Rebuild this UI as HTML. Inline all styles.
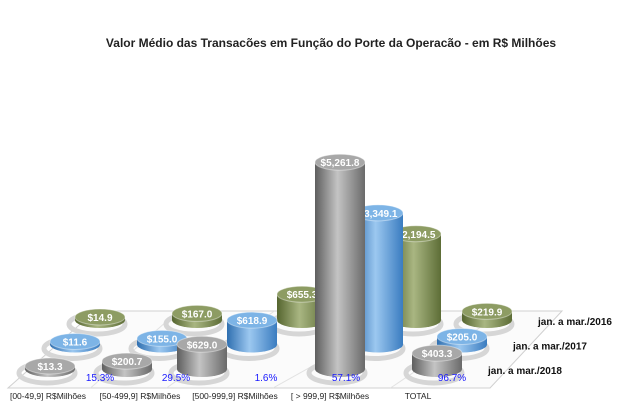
<!DOCTYPE html>
<html><head><meta charset="utf-8"><style>
body{margin:0;background:#fff;}
svg{display:block;font-family:"Liberation Sans",sans-serif;}
</style></head><body>
<svg id="chart" width="640" height="413" viewBox="0 0 640 413">
<defs>
<linearGradient id="g-gray" x1="0" x2="1"><stop offset="0" stop-color="#5e5e5e"/><stop offset="0.45" stop-color="#c4c4c4"/><stop offset="1" stop-color="#6a6a6a"/></linearGradient>
<linearGradient id="g-blue" x1="0" x2="1"><stop offset="0" stop-color="#2f6fb0"/><stop offset="0.45" stop-color="#9cc8f0"/><stop offset="1" stop-color="#3a7cc0"/></linearGradient>
<linearGradient id="g-green" x1="0" x2="1"><stop offset="0" stop-color="#55652f"/><stop offset="0.45" stop-color="#a9b682"/><stop offset="1" stop-color="#5d6d36"/></linearGradient>
</defs>
<text x="331" y="47" text-anchor="middle" font-size="12" font-weight="bold" fill="#222">Valor Médio das Transacões em Função do Porte da Operacão - em R$ Milhões</text>
<polygon points="8,388 95,311 562,311 490,388" fill="#fbfbfb" stroke="#d0d0d0" stroke-width="1"/>
<g id="marks"></g>
</svg>
<script>
const categories = ["[00-49,9] R$Milhões","[50-499,9] R$Milhões","[500-999,9] R$Milhões","[ > 999,9] R$Milhões","TOTAL"];
const seriesNames = ["jan. a mar./2016","jan. a mar./2017","jan. a mar./2018"];
const values2016 = [14.9, 167.0, 655.3, 2194.5, 219.9];
const values2017 = [11.6, 155.0, 618.9, 3349.1, 205.0];
const values2018 = [13.3, 200.7, 629.0, 5261.8, 403.3];
const pctLabels = ["15.3%","29.5%","1.6%","57.1%","96.7%"];
const series = [values2016, values2017, values2018];
// layout (not data)
const catX = [50, 127, 202, 340, 437];
const catShift = [25, 35, 50, 38, 25];
const pctX = [100, 176, 266, 346, 452];
const labX = [48, 140, 235, 330, 418];
const fills = ["url(#g-green)","url(#g-blue)","url(#g-gray)"];
const tops = ["#8d9c63","#7db4e6","#a8a8a8"];
const baseFront = 369, rowDy = 24.5, scale = 0.0393, rx = 25, ry = 8;
function xPos(c, r){ return catX[c] + (2 - r) * catShift[c]; }
function yBase(r){ return baseFront - (2 - r) * rowDy; }
function h(v){ return Math.max(v * scale, 3); }
const ns = "http://www.w3.org/2000/svg";
const g = document.getElementById("marks");
function mk(tag, attrs){ const e=document.createElementNS(ns,tag); for(const k in attrs) e.setAttribute(k,attrs[k]); g.appendChild(e); return e; }
for(let c=0;c<4;c++){
  const x=(catX[c]+catX[c+1])/2+10;
  const l=mk("line",{x1:x-8,y1:388,x2:x+2*catShift[c]+30,y2:311,stroke:"#e2e2e2"});
  
  
}
for(let r=0;r<3;r++) for(let c=0;c<5;c++){
  const s=mk("ellipse",{cx:xPos(c,r)-3,cy:yBase(r)+4,rx:rx+3,ry:ry+2,fill:"none",stroke:"#d6d6d6","stroke-width":5});
  
  
}
for(let r=0;r<3;r++){
  for(let c=0;c<5;c++){
    const v=series[r][c], x=xPos(c,r), yb=yBase(r), yt=yb-h(v);
    const bg=mk("g",{});
    
    
    const parts=[["ellipse",{cx:x,cy:yb,rx:rx,ry:ry,fill:fills[r]}],["rect",{x:x-rx,y:yt,width:2*rx,height:yb-yt,fill:fills[r]}],["ellipse",{cx:x,cy:yt,rx:rx,ry:ry,fill:tops[r],stroke:"rgba(255,255,255,0.4)"}]];
    for(const [t,a] of parts){ const e=document.createElementNS(ns,t); for(const k in a) e.setAttribute(k,a[k]); bg.appendChild(e); }
    const t=mk("text",{x:x,y:yt+4,"text-anchor":"middle","font-size":"10","font-weight":"bold",fill:"#fff"});
    t.textContent="$"+v.toLocaleString("en-US",{minimumFractionDigits:1,maximumFractionDigits:1});
    
    
  }
}
for(let c=0;c<5;c++){
  const p=mk("text",{x:pctX[c],y:381,"text-anchor":"middle","font-size":"10",fill:"#1a1aff"});
  p.textContent=pctLabels[c];
  
  
  const lab=mk("text",{x:labX[c],y:399,"text-anchor":"middle","font-size":"8.5",fill:"#222"});
  lab.textContent=categories[c];
  
  
}
for(let r=0;r<3;r++){
  const t=mk("text",{x:538-r*25,y:325+r*24.5,"font-size":"10","font-weight":"bold",fill:"#111"});
  t.textContent=seriesNames[r];
  
  
}
</script>
</body></html>
